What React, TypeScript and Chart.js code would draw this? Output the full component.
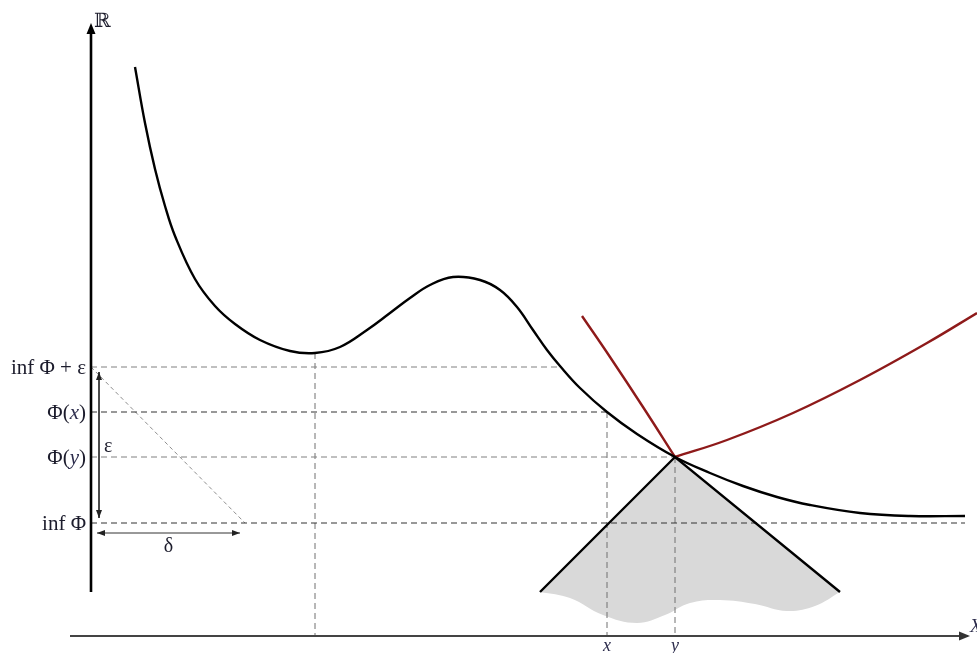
import React, { useEffect, useRef } from "react";
import { Chart, registerables } from "chart.js";

Chart.register(...registerables);

// Φ : black curve
const phiX = [0.44, 0.54, 0.64, 0.74, 0.84, 1.04, 1.24, 1.44, 1.69, 1.99, 2.24, 2.49, 2.76, 2.99, 3.19, 3.39, 3.62, 3.89, 4.09, 4.26, 4.42, 4.56, 4.69, 4.89, 5.16, 5.46, 5.84, 6.19, 6.52, 6.86, 7.19, 7.69, 8.19, 8.74];
const phiY = [5.69, 5.13, 4.67, 4.3, 4.0, 3.57, 3.3, 3.12, 2.96, 2.85, 2.83, 2.89, 3.06, 3.23, 3.38, 3.51, 3.59, 3.56, 3.46, 3.29, 3.06, 2.86, 2.7, 2.48, 2.24, 2.02, 1.79, 1.63, 1.5, 1.39, 1.31, 1.23, 1.2, 1.2];

// red curve (two branches meeting at y)
const redLeftX = [4.91, 5.19, 5.52, 5.84];
const redLeftY = [3.2, 2.79, 2.29, 1.79];
const redRightX = [5.84, 6.36, 7.02, 7.69, 8.36, 8.86];
const redRightY = [1.79, 1.96, 2.23, 2.56, 2.93, 3.23];

// cone
const coneX = [4.49, 5.84, 7.49];
const coneY = [0.44, 1.79, 0.44];
const coneBottomX = [4.49, 4.79, 5.12, 5.46, 5.74, 5.99, 6.29, 6.64, 6.96, 7.24, 7.49];
const coneBottomY = [0.44, 0.38, 0.21, 0.13, 0.21, 0.33, 0.36, 0.32, 0.25, 0.3, 0.44];

// horizontal levels
const levelLabels = ["inf Φ + ε", "Φ(x)", "Φ(y)", "inf Φ"];
const levelValues = [2.69, 2.24, 1.79, 1.13];
const levelEnds = [4.69, 5.16, 5.84, 8.74];
const levelDark = [false, true, false, true];

// vertical guides
const guideX = [2.24, 5.16, 5.84];
const guideTop = [2.83, 2.24, 1.79];

// tick labels on X
const tickLabels = ["x", "y"];
const tickValues = [5.16, 5.84];

// epsilon / delta
const diagonalX = [0, 1.54];
const diagonalY = [2.69, 1.13];
const epsArrowX = [0.08, 0.08];
const epsArrowY = [2.64, 1.18];
const deltaArrowX = [0.06, 1.49];
const deltaArrowY = [1.03, 1.03];

// axes
const yAxisX = [0, 0];
const yAxisY = [0.44, 6.08];
const xAxisX = [-0.21, 8.77];
const xAxisY = [0, 0];

const zip = (xs: number[], ys: number[]) => xs.map((x, i) => ({ x, y: ys[i] }));

const TEXT = "#1c1c2c";
const ITAL = "#2c2c4c";
const SERIF = "'Liberation Serif', 'DejaVu Serif', serif";

function line(data: any, color: string, width: number, extra: any = {}) {
  return {
    data,
    borderColor: color,
    borderWidth: width,
    pointRadius: 0,
    pointHoverRadius: 0,
    fill: false,
    clip: false,
    tension: 0,
    ...extra,
  };
}

function splitRich(s: string): [string, boolean][] {
  const out: [string, boolean][] = [];
  const m = s.match(/^(.*\()([a-z])(\).*)$/);
  if (m) {
    out.push([m[1], false], [m[2], true], [m[3], false]);
  } else out.push([s, false]);
  return out;
}

const labelPlugin = {
  id: "labels",
  afterDatasetsDraw(chart: any) {
    const { ctx } = chart;
    const xs = chart.scales.x;
    const ys = chart.scales.y;
    const px = (v: number) => xs.getPixelForValue(v);
    const py = (v: number) => ys.getPixelForValue(v);

    const head = (x1: number, y1: number, x2: number, y2: number, len: number, hw: number, color: string) => {
      const ax = px(x1), ay = py(y1), bx = px(x2), by = py(y2);
      const ang = Math.atan2(by - ay, bx - ax);
      ctx.save();
      ctx.fillStyle = color;
      ctx.beginPath();
      ctx.moveTo(bx, by);
      ctx.lineTo(bx - len * Math.cos(ang) + hw * Math.sin(ang), by - len * Math.sin(ang) - hw * Math.cos(ang));
      ctx.lineTo(bx - len * Math.cos(ang) - hw * Math.sin(ang), by - len * Math.sin(ang) + hw * Math.cos(ang));
      ctx.closePath();
      ctx.fill();
      ctx.restore();
    };

    head(yAxisX[0], yAxisY[0], yAxisX[1], yAxisY[1] + 0.05, 11, 4.5, "#000");
    head(xAxisX[0], xAxisY[0], xAxisX[1] + 0.02, xAxisY[1], 11, 4.5, "#333");
    head(epsArrowX[1], epsArrowY[1], epsArrowX[0], epsArrowY[0], 8, 3, "#222");
    head(epsArrowX[0], epsArrowY[0], epsArrowX[1], epsArrowY[1], 8, 3, "#222");
    head(deltaArrowX[1], deltaArrowY[1], deltaArrowX[0], deltaArrowY[0], 8, 3, "#222");
    head(deltaArrowX[0], deltaArrowY[0], deltaArrowX[1], deltaArrowY[1], 8, 3, "#222");

    ctx.save();
    ctx.textBaseline = "middle";
    levelLabels.forEach((lab, i) => {
      const pieces = splitRich(lab);
      const fonts = pieces.map(([, it]) => (it ? `italic 21px ${SERIF}` : `21px ${SERIF}`));
      let total = 0;
      const widths = pieces.map(([t], k) => {
        ctx.font = fonts[k];
        const w = ctx.measureText(t).width;
        total += w;
        return w;
      });
      let x = px(0) - 5 - total;
      const y = py(levelValues[i]) + 1;
      pieces.forEach(([t, it], k) => {
        ctx.font = fonts[k];
        ctx.fillStyle = it ? ITAL : TEXT;
        ctx.textAlign = "left";
        ctx.fillText(t, x, y);
        x += widths[k];
      });
    });

    ctx.font = `italic 18px ${SERIF}`;
    ctx.fillStyle = ITAL;
    ctx.textAlign = "center";
    tickLabels.forEach((t, i) => {
      ctx.fillText(t, px(tickValues[i]), py(xAxisY[0]) + 10);
    });

    ctx.font = `20px ${SERIF}`;
    ctx.fillStyle = TEXT;
    ctx.textAlign = "left";
    ctx.fillText("ε", px(epsArrowX[0]) + 5, py((epsArrowY[0] + epsArrowY[1]) / 2) + 2);
    ctx.textAlign = "center";
    ctx.fillText("δ", px((deltaArrowX[0] + deltaArrowX[1]) / 2), py(deltaArrowY[0]) + 14);

    ctx.font = `20px 'DejaVu Serif', serif`;
    ctx.fillStyle = TEXT;
    ctx.textAlign = "left";
    ctx.fillText("ℝ", px(yAxisX[0]) + 3, py(yAxisY[1]) - 6);
    ctx.font = `italic 19px ${SERIF}`;
    ctx.fillStyle = ITAL;
    ctx.fillText("X", px(xAxisX[1]) + 2, py(xAxisY[0]) - 9);
    ctx.restore();
  },
};

export default function App() {
  const ref = useRef<HTMLCanvasElement>(null);
  useEffect(() => {
    if (!ref.current) return;
    const datasets: any[] = [];
    datasets.push(line(zip(coneX, coneY), "#000", 2.4));
    datasets.push(line(zip(phiX, phiY), "#000", 2.4, { tension: 0.4 }));
    datasets.push(line(zip(redLeftX, redLeftY), "#8e1a1a", 2.4, { tension: 0.4 }));
    datasets.push(line(zip(redRightX, redRightY), "#8e1a1a", 2.4, { tension: 0.4 }));
    datasets.push(line(zip(yAxisX, yAxisY), "#000", 2.6));
    datasets.push(line(zip(xAxisX, xAxisY), "#444", 2.2));
    levelValues.forEach((v, i) => {
      datasets.push(
        line(zip([0, levelEnds[i]], [v, v]), levelDark[i] ? "#333333" : "#808080", 1, { borderDash: [6, 4] })
      );
    });
    guideX.forEach((gx, i) => {
      datasets.push(line(zip([gx, gx], [guideTop[i], 0]), "#707070", 1, { borderDash: [6, 4] }));
    });
    datasets.push(line(zip(diagonalX, diagonalY), "#808080", 0.9, { borderDash: [4, 3] }));
    datasets.push(line(zip(epsArrowX, epsArrowY), "#333", 1));
    datasets.push(line(zip(deltaArrowX, deltaArrowY), "#333", 1));
    datasets.push(
      line(zip(coneBottomX, coneBottomY), "rgba(0,0,0,0)", 0, {
        tension: 0.4,
        fill: { target: 0 },
        backgroundColor: "#d9d9d9",
      })
    );

    const chart = new Chart(ref.current, {
      type: "line",
      data: { datasets },
      options: {
        animation: false,
        responsive: false,
        layout: { padding: 0 },
        plugins: { legend: { display: false }, tooltip: { enabled: false } },
        events: [],
        scales: {
          x: { type: "linear", min: -0.91, max: 8.86, display: false },
          y: { type: "linear", min: -0.17, max: 6.36, display: false },
        },
      },
      plugins: [labelPlugin],
    });
    return () => chart.destroy();
  }, []);

  return (
    <div style={{ position: "absolute", left: 0, top: 0, width: 977, height: 653, background: "#fff" }}>
      <canvas ref={ref} width={977} height={653} style={{ display: "block" }} />
    </div>
  );
}
